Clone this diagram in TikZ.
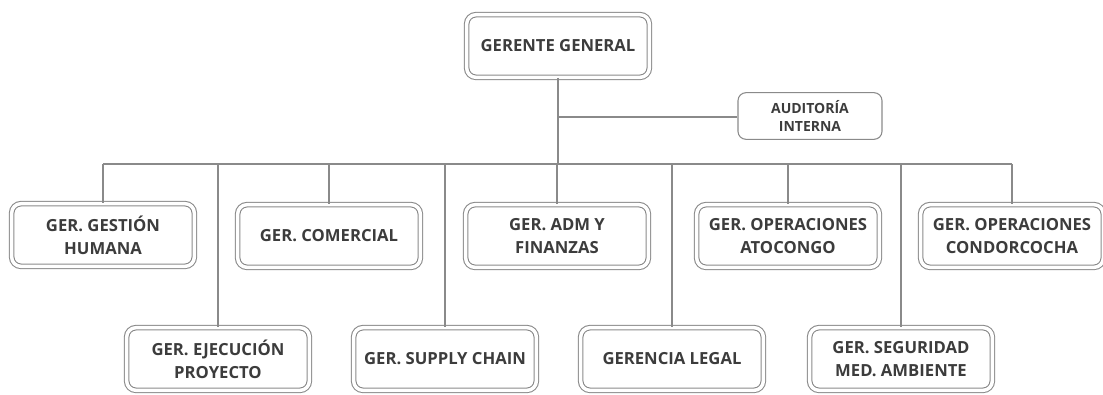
\documentclass[tikz,border=0pt]{standalone}
\usepackage{fontspec}
\setmainfont{Open Sans}
\usepackage{tikz}
\usetikzlibrary{positioning}
\definecolor{trait}{HTML}{8A8A8A}
\definecolor{texte}{HTML}{3C3C3C}

\begin{document}
\begin{tikzpicture}[x=0.75pt, y=-0.75pt,
		gerence/.style={rectangle, rounded corners=7pt, draw=trait, line width=0.8pt,
			double=white, double distance=2.6pt, minimum width=137pt, minimum height=47pt,
			align=center, text=texte, font=\fontsize{12.5}{17}\selectfont\bfseries, inner sep=2pt},
		conseil/.style={rectangle, rounded corners=6pt, draw=trait, line width=0.8pt,
			minimum width=108pt, minimum height=35pt, align=center, text=texte,
			font=\fontsize{10.5}{13.5}\selectfont\bfseries, inner sep=2pt},
		lien/.style={draw=trait, line width=1pt}
		]
		\useasboundingbox (0,0) rectangle (1103,394);
		
		% Les gerences
		\node[gerence] (GG) at (558, 46) {GERENTE GENERAL};
		\node[conseil] (AI) at (810, 116) {AUDITORÍA\\INTERNA};
		\node[gerence] (GH) at (103, 235) {GER. GESTIÓN\\HUMANA};
		\node[gerence] (CO) at (329, 236) {GER. COMERCIAL};
		\node[gerence] (AF) at (557, 236) {GER. ADM Y\\FINANZAS};
		\node[gerence] (OA) at (788, 236) {GER. OPERACIONES\\ATOCONGO};
		\node[gerence] (OC) at (1012, 236) {GER. OPERACIONES\\CONDORCOCHA};
		\node[gerence] (EP) at (218, 359) {GER. EJECUCIÓN\\PROYECTO};
		\node[gerence] (SC) at (445, 359) {GER. SUPPLY CHAIN};
		\node[gerence] (GL) at (672, 359) {GERENCIA LEGAL};
		\node[gerence] (SM) at (901, 359) {GER. SEGURIDAD\\MED. AMBIENTE};
		
		% Les liens
		\coordinate (bus) at (558, 164);
		\coordinate (aud) at (558, 117);
		\draw[lien] (GG.south) -- (bus);
		\draw[lien] (aud) -- (aud -| AI.west);
		\draw[lien] (bus -| GH.north) -- (bus -| OC.north);
		\foreach \g in {GH, CO, AF, OA, OC, EP, SC, GL, SM}
			\draw[lien] (bus -| \g.north) -- (\g.north);
	\end{tikzpicture}
\end{document}
